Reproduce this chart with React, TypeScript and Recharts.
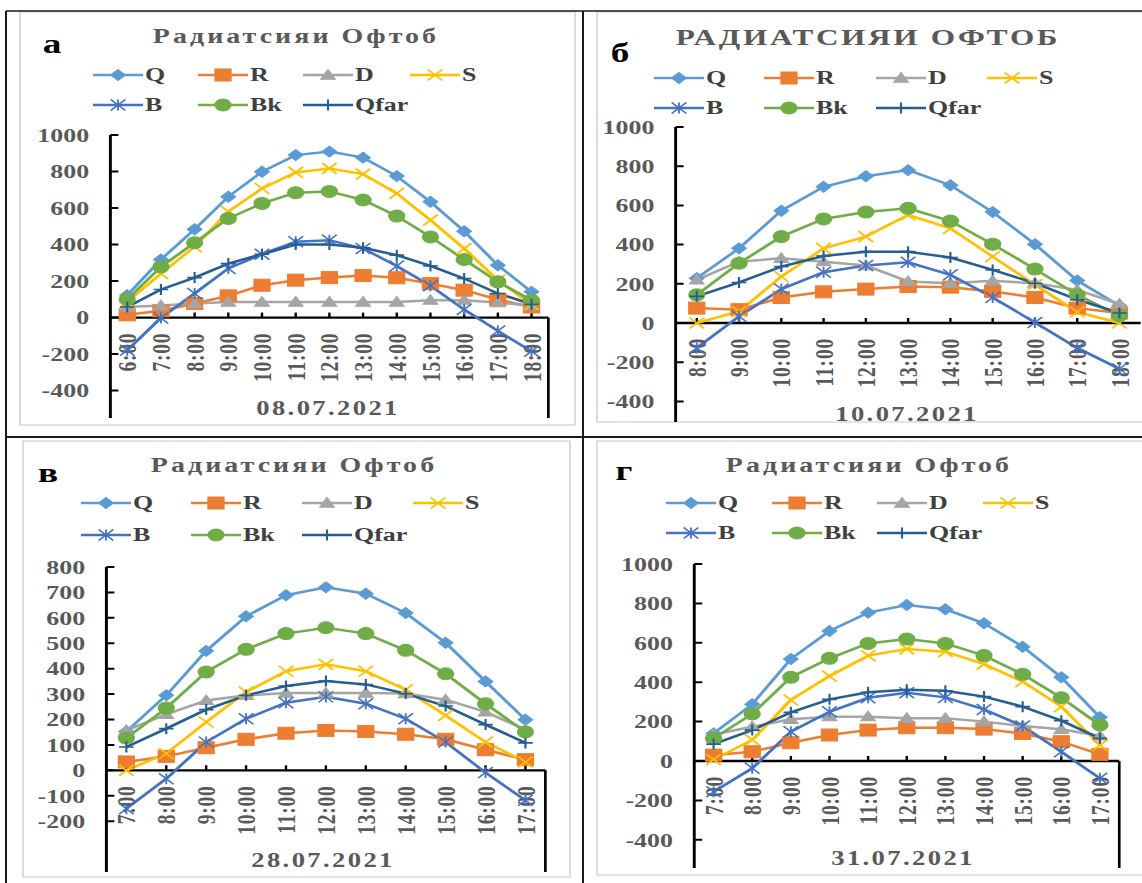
import React from 'react';
import { LineChart, Line, XAxis, YAxis, ReferenceLine, ReferenceDot } from 'recharts';

// The figure is laid out in a narrower frame and widened by S,
// which gives the broad lettering and flattened markers of the sheet.
const S = 1.33;
const PAGE_W = 1142;
const PAGE_H = 883;
const FONT = "'Liberation Serif', 'Times New Roman', serif";
const AXIS_TEXT = '#595959';

// ---- categories ----
const TIMES_0807 = ['6:00', '7:00', '8:00', '9:00', '10:00', '11:00', '12:00', '13:00', '14:00', '15:00', '16:00', '17:00', '18:00'];
const TIMES_1007 = ['8:00', '9:00', '10:00', '11:00', '12:00', '13:00', '14:00', '15:00', '16:00', '17:00', '18:00'];
const TIMES_2807 = ['7:00', '8:00', '9:00', '10:00', '11:00', '12:00', '13:00', '14:00', '15:00', '16:00', '17:00'];
const TIMES_3107 = ['7:00', '8:00', '9:00', '10:00', '11:00', '12:00', '13:00', '14:00', '15:00', '16:00', '17:00'];

// ---- y ticks ----
const TICKS_1000 = [-400, -200, 0, 200, 400, 600, 800, 1000];
const TICKS_800 = [-200, -100, 0, 100, 200, 300, 400, 500, 600, 700, 800];

// ---- 08.07.2021 ----
const Q_0807 = [122, 318, 484, 662, 799, 890, 909, 876, 775, 634, 473, 287, 141];
const R_0807 = [15, 37, 77, 119, 177, 205, 219, 230, 218, 186, 150, 99, 58];
const D_0807 = [58, 66, 77, 85, 85, 85, 85, 85, 85, 95, 95, 82, 65];
const S_0807 = [86, 241, 388, 580, 707, 795, 817, 786, 680, 534, 378, 205, 70];
const B_0807 = [-179, -2, 132, 269, 347, 415, 424, 378, 283, 174, 44, -73, -185];
const BK_0807 = [99, 278, 410, 543, 625, 684, 691, 644, 556, 442, 318, 196, 95];
const QFAR_0807 = [58, 154, 219, 296, 347, 400, 400, 382, 342, 283, 214, 132, 73];

// ---- 10.07.2021 ----
const Q_1007 = [229, 381, 573, 695, 749, 780, 703, 566, 402, 217, 88];
const R_1007 = [76, 68, 130, 159, 173, 186, 183, 161, 130, 76, 51];
const D_1007 = [220, 313, 330, 313, 293, 212, 203, 215, 203, 169, 97];
const S_1007 = [0, 59, 237, 381, 441, 551, 483, 339, 195, 56, 0];
const B_1007 = [-127, 34, 173, 259, 293, 310, 246, 130, 3, -127, -234];
const BK_1007 = [144, 305, 441, 531, 566, 585, 520, 402, 275, 144, 37];
const QFAR_1007 = [136, 207, 288, 342, 364, 364, 334, 271, 203, 119, 51];

// ---- 28.07.2021 ----
const Q_2807 = [153, 295, 470, 606, 689, 720, 695, 619, 502, 350, 199];
const R_2807 = [33, 55, 89, 122, 146, 157, 153, 142, 122, 81, 42];
const D_2807 = [157, 220, 275, 295, 304, 304, 304, 302, 278, 230, 160];
const S_2807 = [0, 66, 190, 308, 390, 417, 390, 317, 216, 111, 33];
const B_2807 = [-151, -33, 111, 203, 266, 289, 262, 203, 111, -9, -118];
const BK_2807 = [127, 245, 387, 476, 538, 561, 538, 472, 380, 262, 151];
const QFAR_2807 = [92, 164, 239, 295, 332, 351, 338, 302, 253, 180, 108];

// ---- 31.07.2021 ----
const Q_3107 = [140, 288, 518, 660, 753, 792, 770, 699, 580, 425, 222];
const R_3107 = [30, 47, 93, 132, 157, 169, 169, 162, 140, 98, 34];
const D_3107 = [135, 174, 212, 225, 225, 217, 217, 200, 178, 161, 127];
const S_3107 = [8, 107, 310, 431, 535, 569, 555, 492, 403, 276, 81];
const B_3107 = [-156, -37, 149, 250, 321, 347, 323, 262, 178, 47, -88];
const BK_3107 = [115, 239, 425, 521, 597, 619, 597, 535, 440, 321, 183];
const QFAR_3107 = [86, 157, 247, 313, 349, 362, 357, 327, 276, 205, 115];

const SERIES = [
  { key: 'Q', color: '#5B9BD5', shape: 'diamond', size: 11 },
  { key: 'R', color: '#ED7D31', shape: 'square', size: 12 },
  { key: 'D', color: '#A5A5A5', shape: 'triangle', size: 11 },
  { key: 'S', color: '#FFC000', shape: 'x', size: 11 },
  { key: 'B', color: '#4472C4', shape: 'star', size: 11 },
  { key: 'Bk', color: '#70AD47', shape: 'circle', size: 12 },
  { key: 'Qfar', color: '#255E91', shape: 'plus', size: 11 },
];

const buildRows = (times: string[], cols: Record<string, number[]>) =>
  times.map((t, i) => {
    const row: any = { i, t };
    Object.keys(cols).forEach((k) => (row[k] = cols[k][i]));
    return row;
  });

// layout of the four sheets (page pixels; x values are divided by S when drawn)
const PANELS = [
  {
    letter: 'а', title: 'Радиатсияи Офтоб', titleSize: 21, titleSpacing: 2.3, date: '08.07.2021',
    rows: buildRows(TIMES_0807, { Q: Q_0807, R: R_0807, D: D_0807, S: S_0807, B: B_0807, Bk: BK_0807, Qfar: QFAR_0807 }),
    times: TIMES_0807, yMin: -550, yMax: 1000, ticks: TICKS_1000,
    plot: { left: 110, right: 548, top: 135, bottom: 418 },
    titleAt: [296, 43], letterAt: [52, 53], legendX: [93, 198, 303, 410], legendY: [75, 105], dateAt: [328, 415],
    frame: { left: 20, top: 12, right: 575, bottom: 425 }, edgeLine: true,
  },
  {
    letter: 'б', title: 'РАДИАТСИЯИ ОФТОБ', titleSize: 23.5, titleSpacing: 2, date: '10.07.2021',
    rows: buildRows(TIMES_1007, { Q: Q_1007, R: R_1007, D: D_1007, S: S_1007, B: B_1007, Bk: BK_1007, Qfar: QFAR_1007 }),
    times: TIMES_1007, yMin: -505, yMax: 1000, ticks: TICKS_1000,
    plot: { left: 675, right: 1140, top: 127, bottom: 422 },
    titleAt: [868, 45], letterAt: [620, 62], legendX: [654, 764, 876, 987], legendY: [78, 108], dateAt: [907, 421],
    frame: { left: 597, top: 12, right: 1150, bottom: 422 }, edgeLine: false,
  },
  {
    letter: 'в', title: 'Радиатсияи Офтоб', titleSize: 21, titleSpacing: 2.3, date: '28.07.2021',
    rows: buildRows(TIMES_2807, { Q: Q_2807, R: R_2807, D: D_2807, S: S_2807, B: B_2807, Bk: BK_2807, Qfar: QFAR_2807 }),
    times: TIMES_2807, yMin: -400, yMax: 800, ticks: TICKS_800,
    plot: { left: 106, right: 545, top: 567, bottom: 872 },
    titleAt: [294, 472], letterAt: [48, 482], legendX: [81, 191, 302, 413], legendY: [503, 535], dateAt: [323, 867],
    frame: { left: 23, top: 441, right: 570, bottom: 877 }, edgeLine: true,
  },
  {
    letter: 'г', title: 'Радиатсияи Офтоб', titleSize: 21, titleSpacing: 2.3, date: '31.07.2021',
    rows: buildRows(TIMES_3107, { Q: Q_3107, R: R_3107, D: D_3107, S: S_3107, B: B_3107, Bk: BK_3107, Qfar: QFAR_3107 }),
    times: TIMES_3107, yMin: -543, yMax: 1000, ticks: TICKS_1000,
    plot: { left: 694, right: 1119, top: 564, bottom: 868 },
    titleAt: [869, 472], letterAt: [624, 480], legendX: [666, 772, 877, 983], legendY: [503, 533], dateAt: [903, 865],
    frame: { left: 597, top: 441, right: 1150, bottom: 875 }, edgeLine: true,
  },
];

function Marker({ shape, color, cx, cy, size }: any) {
  const h = size / 2;
  switch (shape) {
    case 'diamond':
      return <polygon points={`${cx},${cy - h} ${cx + h},${cy} ${cx},${cy + h} ${cx - h},${cy}`} fill={color} stroke={color} strokeWidth={1} />;
    case 'square':
      return <rect x={cx - h} y={cy - h} width={size} height={size} fill={color} stroke={color} strokeWidth={1} />;
    case 'triangle':
      return <polygon points={`${cx},${cy - h} ${cx + h},${cy + h * 0.75} ${cx - h},${cy + h * 0.75}`} fill={color} stroke={color} strokeWidth={1} />;
    case 'x':
      return (
        <g stroke={color} strokeWidth={1.6}>
          <line x1={cx - h} y1={cy - h} x2={cx + h} y2={cy + h} />
          <line x1={cx - h} y1={cy + h} x2={cx + h} y2={cy - h} />
        </g>
      );
    case 'star':
      return (
        <g stroke={color} strokeWidth={1.4}>
          <line x1={cx - h} y1={cy - h} x2={cx + h} y2={cy + h} />
          <line x1={cx - h} y1={cy + h} x2={cx + h} y2={cy - h} />
          <line x1={cx} y1={cy - h} x2={cx} y2={cy + h} />
        </g>
      );
    case 'circle':
      return <circle cx={cx} cy={cy} r={h} fill={color} stroke={color} strokeWidth={1} />;
    case 'plus':
      return (
        <g stroke={color} strokeWidth={1.6}>
          <line x1={cx - h} y1={cy} x2={cx + h} y2={cy} />
          <line x1={cx} y1={cy - h} x2={cx} y2={cy + h} />
        </g>
      );
    default:
      return null;
  }
}

const makeDot = (s: any) => (p: any) => {
  const { cx, cy, index } = p;
  if (cx == null || cy == null) return <g key={`${s.key}-${index}`} />;
  return <Marker key={`${s.key}-${index}`} shape={s.shape} color={s.color} cx={cx} cy={cy} size={s.size} />;
};

const YTick = (p: any) => {
  const { x, y, payload } = p;
  return (
    <g>
      <line x1={x} x2={x + 6} y1={y} y2={y} stroke="#000" strokeWidth={2} />
      <text x={x - 16} y={y} dy="0.35em" textAnchor="end" fontFamily={FONT} fontWeight="bold" fontSize={19.5} fill={AXIS_TEXT}>
        {payload.value}
      </text>
    </g>
  );
};

// category label hanging below the zero line, with a small inside tick
const xLabel = (text: string) => (props: any) => {
  const vb = props.viewBox || {};
  const cx = (vb.x ?? props.x ?? 0) + (vb.width ?? 0) / 2;
  const cy = (vb.y ?? props.y ?? 0) + (vb.height ?? 0) / 2;
  return (
    <g>
      <line x1={cx} x2={cx} y1={cy} y2={cy - 5} stroke="#000" strokeWidth={1.8} />
      <text
        transform={`translate(${cx},${cy + 15}) rotate(-90)`}
        textAnchor="end"
        dy="0.35em"
        fontFamily={FONT}
        fontWeight="bold"
        fontSize={19.5}
        letterSpacing={0.8}
        fill={AXIS_TEXT}
      >
        {text}
      </text>
    </g>
  );
};

const YW = 60;
const MT = 12;
const MR = 6;
const MB = 4;

function PanelChart({ panel }: any) {
  const { plot, rows, times, yMin, yMax, ticks, edgeLine } = panel;
  const n = times.length;
  const left = plot.left / S - YW;
  const top = plot.top - MT;
  const width = YW + (plot.right - plot.left) / S + MR;
  const height = MT + (plot.bottom - plot.top) + MB;
  return (
    <div style={{ position: 'absolute', left, top, width, height }}>
      <LineChart width={width} height={height} data={rows} margin={{ top: MT, right: MR, bottom: MB, left: 0 }}>
        <XAxis type="number" dataKey="i" domain={[-0.5, n - 0.5]} allowDataOverflow hide height={0} />
        <YAxis
          type="number"
          domain={[yMin, yMax]}
          ticks={ticks}
          interval={0}
          allowDataOverflow
          width={YW}
          tickSize={0}
          tickMargin={0}
          tickLine={false}
          axisLine={{ stroke: '#000', strokeWidth: 2.2 }}
          tick={(p: any) => <YTick {...p} />}
        />
        <ReferenceLine y={0} stroke="#000" strokeWidth={2.4} />
        {edgeLine && (
          <ReferenceLine
            segment={[{ x: n - 0.5, y: 0 }, { x: n - 0.5, y: yMin }]}
            stroke="#000"
            strokeWidth={2}
          />
        )}
        {times.map((t: string, i: number) => (
          <ReferenceDot key={t} x={i} y={0} r={0} fill="none" stroke="none" label={xLabel(t)} />
        ))}
        {SERIES.map((s) => (
          <Line
            key={s.key}
            type="linear"
            dataKey={s.key}
            stroke={s.color}
            strokeWidth={2.5}
            dot={makeDot(s)}
            activeDot={false}
            isAnimationActive={false}
          />
        ))}
      </LineChart>
    </div>
  );
}

function Decorations() {
  const lw = PAGE_W / S;
  return (
    <svg width={lw} height={PAGE_H} style={{ position: 'absolute', left: 0, top: 0 }}>
      {/* sheet frames */}
      {PANELS.map((p, k) => (
        <rect
          key={`f${k}`}
          x={p.frame.left / S}
          y={p.frame.top}
          width={(p.frame.right - p.frame.left) / S}
          height={p.frame.bottom - p.frame.top}
          fill="#fff"
          stroke="#d9d9d9"
          strokeWidth={1.4}
        />
      ))}
      {/* table grid */}
      <g stroke="#1a1a1a">
        <line x1={6 / S} x2={lw} y1={11} y2={11} strokeWidth={1.6} />
        <line x1={6 / S} x2={lw} y1={437} y2={437} strokeWidth={2} />
        <line x1={6 / S} x2={6 / S} y1={11} y2={PAGE_H} strokeWidth={1.5} />
        <line x1={583 / S} x2={583 / S} y1={11} y2={PAGE_H} strokeWidth={1.5} />
      </g>
      {PANELS.map((p, k) => (
        <g key={`t${k}`} fontFamily={FONT} fontWeight="bold">
          <text x={p.titleAt[0] / S} y={p.titleAt[1]} textAnchor="middle" fontSize={p.titleSize} letterSpacing={p.titleSpacing} fill={AXIS_TEXT}>
            {p.title}
          </text>
          <text x={p.letterAt[0] / S} y={p.letterAt[1]} textAnchor="middle" fontSize={28} fill="#000">
            {p.letter}
          </text>
          <text x={p.dateAt[0] / S} y={p.dateAt[1]} textAnchor="middle" fontSize={20} letterSpacing={1.8} fill={AXIS_TEXT}>
            {p.date}
          </text>
          {SERIES.map((s, j) => {
            const x0 = p.legendX[j % 4] / S;
            const y = p.legendY[Math.floor(j / 4)];
            const len = 50 / S;
            return (
              <g key={s.key}>
                <line x1={x0} x2={x0 + len} y1={y} y2={y} stroke={s.color} strokeWidth={2.5} />
                <Marker shape={s.shape} color={s.color} cx={x0 + len / 2} cy={y} size={s.size} />
                <text x={x0 + len + 2 / S} y={y + 6.5} fontSize={19.5} fill="#404040">
                  {s.key}
                </text>
              </g>
            );
          })}
        </g>
      ))}
    </svg>
  );
}

export default function App() {
  return (
    <div
      style={{
        position: 'absolute',
        left: 0,
        top: 0,
        width: PAGE_W / S,
        height: PAGE_H,
        transform: `scaleX(${S})`,
        transformOrigin: '0 0',
        background: '#fff',
      }}
    >
      <Decorations />
      {PANELS.map((p, k) => (
        <PanelChart key={k} panel={p} />
      ))}
    </div>
  );
}
